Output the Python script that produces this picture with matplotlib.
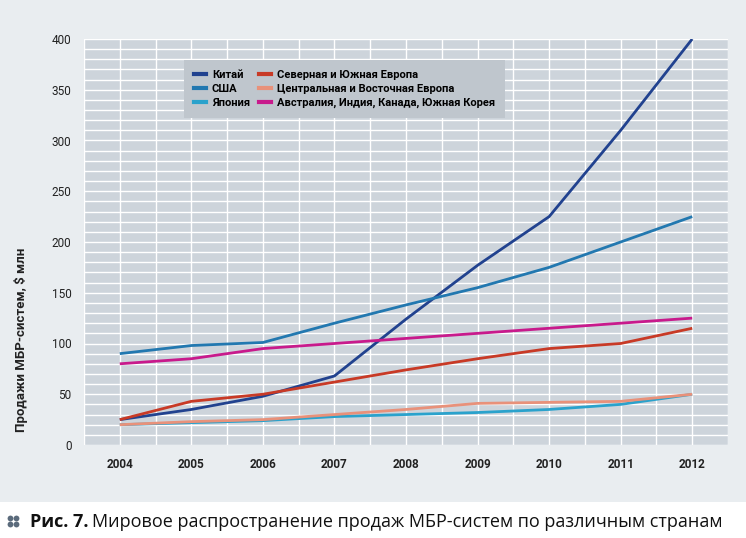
import numpy as np
import matplotlib.pyplot as plt
from matplotlib.ticker import MultipleLocator
from matplotlib.lines import Line2D
import matplotlib.patches as patches

years = [2004, 2005, 2006, 2007, 2008, 2009, 2010, 2011, 2012]

china = [25, 35, 48, 68, 124, 177, 225, 310, 400]
usa = [90, 98, 101, 120, 138, 155, 175, 200, 225]
japan = [20, 22, 24, 28, 30, 32, 35, 40, 50]
north_south_eu = [25, 43, 50, 62, 74, 85, 95, 100, 115]
central_east_eu = [20, 23, 25, 30, 35, 41, 42, 43, 50]
aus_ind_can_kor = [80, 85, 95, 100, 105, 110, 115, 120, 125]

names = ['Китай', 'США', 'Япония', 'Северная и Южная Европа',
         'Центральная и Восточная Европа', 'Австралия, Индия, Канада, Южная Корея']
series = [china, usa, japan, north_south_eu, central_east_eu, aus_ind_can_kor]
colors = ['#21428f', '#2278b0', '#2aa2cc', '#c83a26', '#e8917a', '#c81a8c']

narrow = ['Roboto', 'DejaVu Sans']

fig = plt.figure(figsize=(7.46, 5.38), dpi=100)
fig.patch.set_facecolor('white')

# light panel behind the chart
panel = patches.Rectangle((0, 1 - 502 / 538), 1, 502 / 538, transform=fig.transFigure,
                          facecolor='#e9edf0', edgecolor='none', zorder=-10)
fig.patches.append(panel)

ax = fig.add_axes([84 / 746, 1 - 445 / 538, (728 - 84) / 746, (445 - 39) / 538])
ax.set_facecolor('#cdd4db')

for s, c in zip(series, colors):
    ax.plot(years, s, color=c, lw=2.0, solid_capstyle='butt', zorder=3)

ax.set_xlim(2003.5, 2012.5)
ax.set_ylim(0, 400)
ax.set_xticks(years)
ax.xaxis.set_minor_locator(MultipleLocator(1, offset=0.5))
ax.yaxis.set_major_locator(MultipleLocator(50))
ax.yaxis.set_minor_locator(MultipleLocator(10))
ax.grid(which='both', color='white', lw=1.0, zorder=1)
ax.set_axisbelow(True)
ax.tick_params(which='both', length=0)
ax.tick_params(axis='x', pad=9)
ax.tick_params(axis='y', pad=9)
for lab in ax.get_xticklabels() + ax.get_yticklabels():
    lab.set_family(narrow)
    lab.set_fontsize(8.5)
    lab.set_color('#222222')
for lab in ax.get_xticklabels():
    lab.set_fontweight('bold')
for sp in ax.spines.values():
    sp.set_visible(False)

handles = [Line2D([0], [0], color=c, lw=3) for c in colors]
leg = ax.legend(handles, names, ncol=2, loc='upper left',
                bbox_to_anchor=(100 / 644, 1 - 21 / 406), borderaxespad=0,
                prop={'family': narrow, 'weight': 'bold', 'size': 8},
                handlelength=1.1, handletextpad=0.5, columnspacing=0.8,
                labelspacing=0.35, borderpad=0.9, fancybox=False,
                frameon=True, facecolor='#bfc6cd', edgecolor='none', framealpha=1)
leg.set_zorder(5)

fig.text(21 / 746, 1 - 340 / 538, 'Продажи МБР-систем, $ млн', rotation=90,
         ha='center', va='center', family=narrow, fontweight='bold', fontsize=9.5,
         color='#222222')

# caption marker (four dots)
dot_x = [10, 16, 10, 16]
dot_y = [518, 518, 524, 524]
fig.add_artist(Line2D([x / 746 for x in dot_x], [1 - y / 538 for y in dot_y],
                      transform=fig.transFigure, ls='none', marker='o', ms=4.2,
                      mfc='#5b6b7c', mec='none'))

y_cap = 1 - 522 / 538
t1 = fig.text(30 / 746, y_cap, 'Рис. 7.', family='Open Sans', fontweight='bold',
              fontsize=13, va='center', color='#111111')
fig.canvas.draw()
bb = t1.get_window_extent()
fig.text(bb.x1 / 746 + 4 / 746, y_cap, 'Мировое распространение продаж МБР-систем по различным странам',
         family='Open Sans', fontsize=13, va='center', color='#111111')

fig.savefig('out.png', dpi=100)
